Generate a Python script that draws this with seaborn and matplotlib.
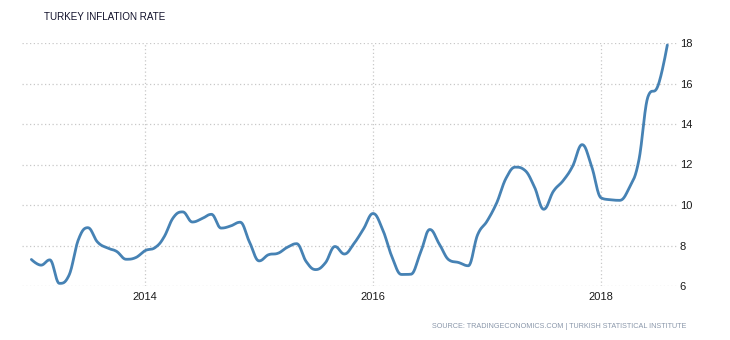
import numpy as np
import pandas as pd
import matplotlib
matplotlib.use("Agg")
import matplotlib.pyplot as plt
import matplotlib.dates as mdates
import seaborn as sns

# ---- data (monthly, Jan 2013 - Aug 2018) ----
start_month = "2013-01-01"
inflation = [
    7.31, 7.03, 7.29, 6.13, 6.51, 8.30, 8.88, 8.17, 7.88, 7.71, 7.32, 7.40,   # 2013
    7.75, 7.89, 8.39, 9.38, 9.66, 9.16, 9.32, 9.54, 8.86, 8.96, 9.15, 8.17,   # 2014
    7.24, 7.55, 7.61, 7.91, 8.09, 7.20, 6.81, 7.14, 7.95, 7.58, 8.10, 8.81,   # 2015
    9.58, 8.78, 7.46, 6.57, 6.58, 7.64, 8.79, 8.05, 7.28, 7.16, 7.00, 8.53,   # 2016
    9.22, 10.13, 11.29, 11.87, 11.72, 10.90, 9.79, 10.68, 11.20, 11.90, 12.98, 11.92,  # 2017
    10.35, 10.26, 10.23, 10.85, 12.15, 15.39, 15.85, 17.90,                   # 2018
]
y_ticks = [6, 8, 10, 12, 14, 16, 18]
x_tick_years = ["2014", "2016", "2018"]
title = "TURKEY INFLATION RATE"
source = "SOURCE: TRADINGECONOMICS.COM | TURKISH STATISTICAL INSTITUTE"

dates = pd.date_range(start_month, periods=len(inflation), freq="MS")
xnum = mdates.date2num(dates)
yv = np.array(inflation, dtype=float)


def spline_path(x, y, smoothing=1.5, n=24):
    """Highcharts-style bezier smoothing through the data points."""
    denom = smoothing + 1
    N = len(x)
    lc = [None] * N
    rc = [None] * N
    for i in range(1, N - 1):
        px, py = x[i], y[i]
        lx, ly = x[i - 1], y[i - 1]
        nx, ny = x[i + 1], y[i + 1]
        lcx = (smoothing * px + lx) / denom
        lcy = (smoothing * py + ly) / denom
        rcx = (smoothing * px + nx) / denom
        rcy = (smoothing * py + ny) / denom
        if rcx != lcx:
            corr = ((rcy - lcy) * (rcx - px)) / (rcx - lcx) + py - rcy
            lcy += corr
            rcy += corr
        if lcy > ly and lcy > py:
            lcy = max(ly, py)
            rcy = 2 * py - lcy
        elif lcy < ly and lcy < py:
            lcy = min(ly, py)
            rcy = 2 * py - lcy
        if rcy > ny and rcy > py:
            rcy = max(ny, py)
            lcy = 2 * py - rcy
        elif rcy < ny and rcy < py:
            rcy = min(ny, py)
            lcy = 2 * py - rcy
        lc[i] = (lcx, lcy)
        rc[i] = (rcx, rcy)
    xs, ys = [x[0]], [y[0]]
    t = np.linspace(0, 1, n + 1)[1:]
    for i in range(1, N):
        p0 = np.array([x[i - 1], y[i - 1]])
        p1 = np.array(rc[i - 1]) if rc[i - 1] is not None else p0
        p3 = np.array([x[i], y[i]])
        p2 = np.array(lc[i]) if lc[i] is not None else p3
        b = ((1 - t) ** 3)[:, None] * p0 + (3 * (1 - t) ** 2 * t)[:, None] * p1 \
            + (3 * (1 - t) * t ** 2)[:, None] * p2 + (t ** 3)[:, None] * p3
        xs.extend(b[:, 0])
        ys.extend(b[:, 1])
    return np.array(xs), np.array(ys)


# smooth in month-index space, then map to dates
midx = np.arange(len(yv), dtype=float)
sx, sy = spline_path(midx, yv)
sdates = mdates.num2date(np.interp(sx, midx, xnum))
smooth = pd.DataFrame({"date": pd.to_datetime([d.replace(tzinfo=None) for d in sdates]), "value": sy})

sns.set_theme(style="white")
plt.rcParams["font.family"] = ["Liberation Sans", "DejaVu Sans"]

fig = plt.figure(figsize=(7.3, 3.4), dpi=100)
ax = fig.add_axes([22 / 730, 1 - 286 / 340, (677 - 22) / 730, (286 - 43) / 340])

sns.lineplot(data=smooth, x="date", y="value", ax=ax, color="#4682b4",
             linewidth=2.0, sort=False, estimator=None)

ax.set_xlim(mdates.date2num(pd.Timestamp("2012-12-02")), mdates.date2num(pd.Timestamp("2018-09-01")))
ax.set_ylim(6, 18)
ax.set_yticks(y_ticks)
ax.set_yticklabels([str(v) for v in y_ticks])
ax.yaxis.tick_right()
ax.set_xticks([mdates.date2num(pd.Timestamp(f"{yr}-01-01")) for yr in x_tick_years])
ax.set_xticklabels(x_tick_years)
ax.tick_params(axis="both", length=0, labelsize=8, colors="#1a1a1a")
ax.tick_params(axis="y", pad=2)
ax.tick_params(axis="x", pad=4)
ax.set_xlabel("")
ax.set_ylabel("")
for s in ax.spines.values():
    s.set_visible(False)
ax.grid(True, axis="both", linestyle=(0, (1, 2)), color="#c8c8c8", linewidth=0.9)
ax.set_axisbelow(True)

fig.text(44 / 730, 1 - 17 / 340, title, fontsize=7.1, color="#10102a", va="center", ha="left")
fig.text(686 / 730, 1 - 326 / 340, source, fontsize=5.2, color="#8a97aa", va="center", ha="right")

fig.savefig("out.png", dpi=100)
